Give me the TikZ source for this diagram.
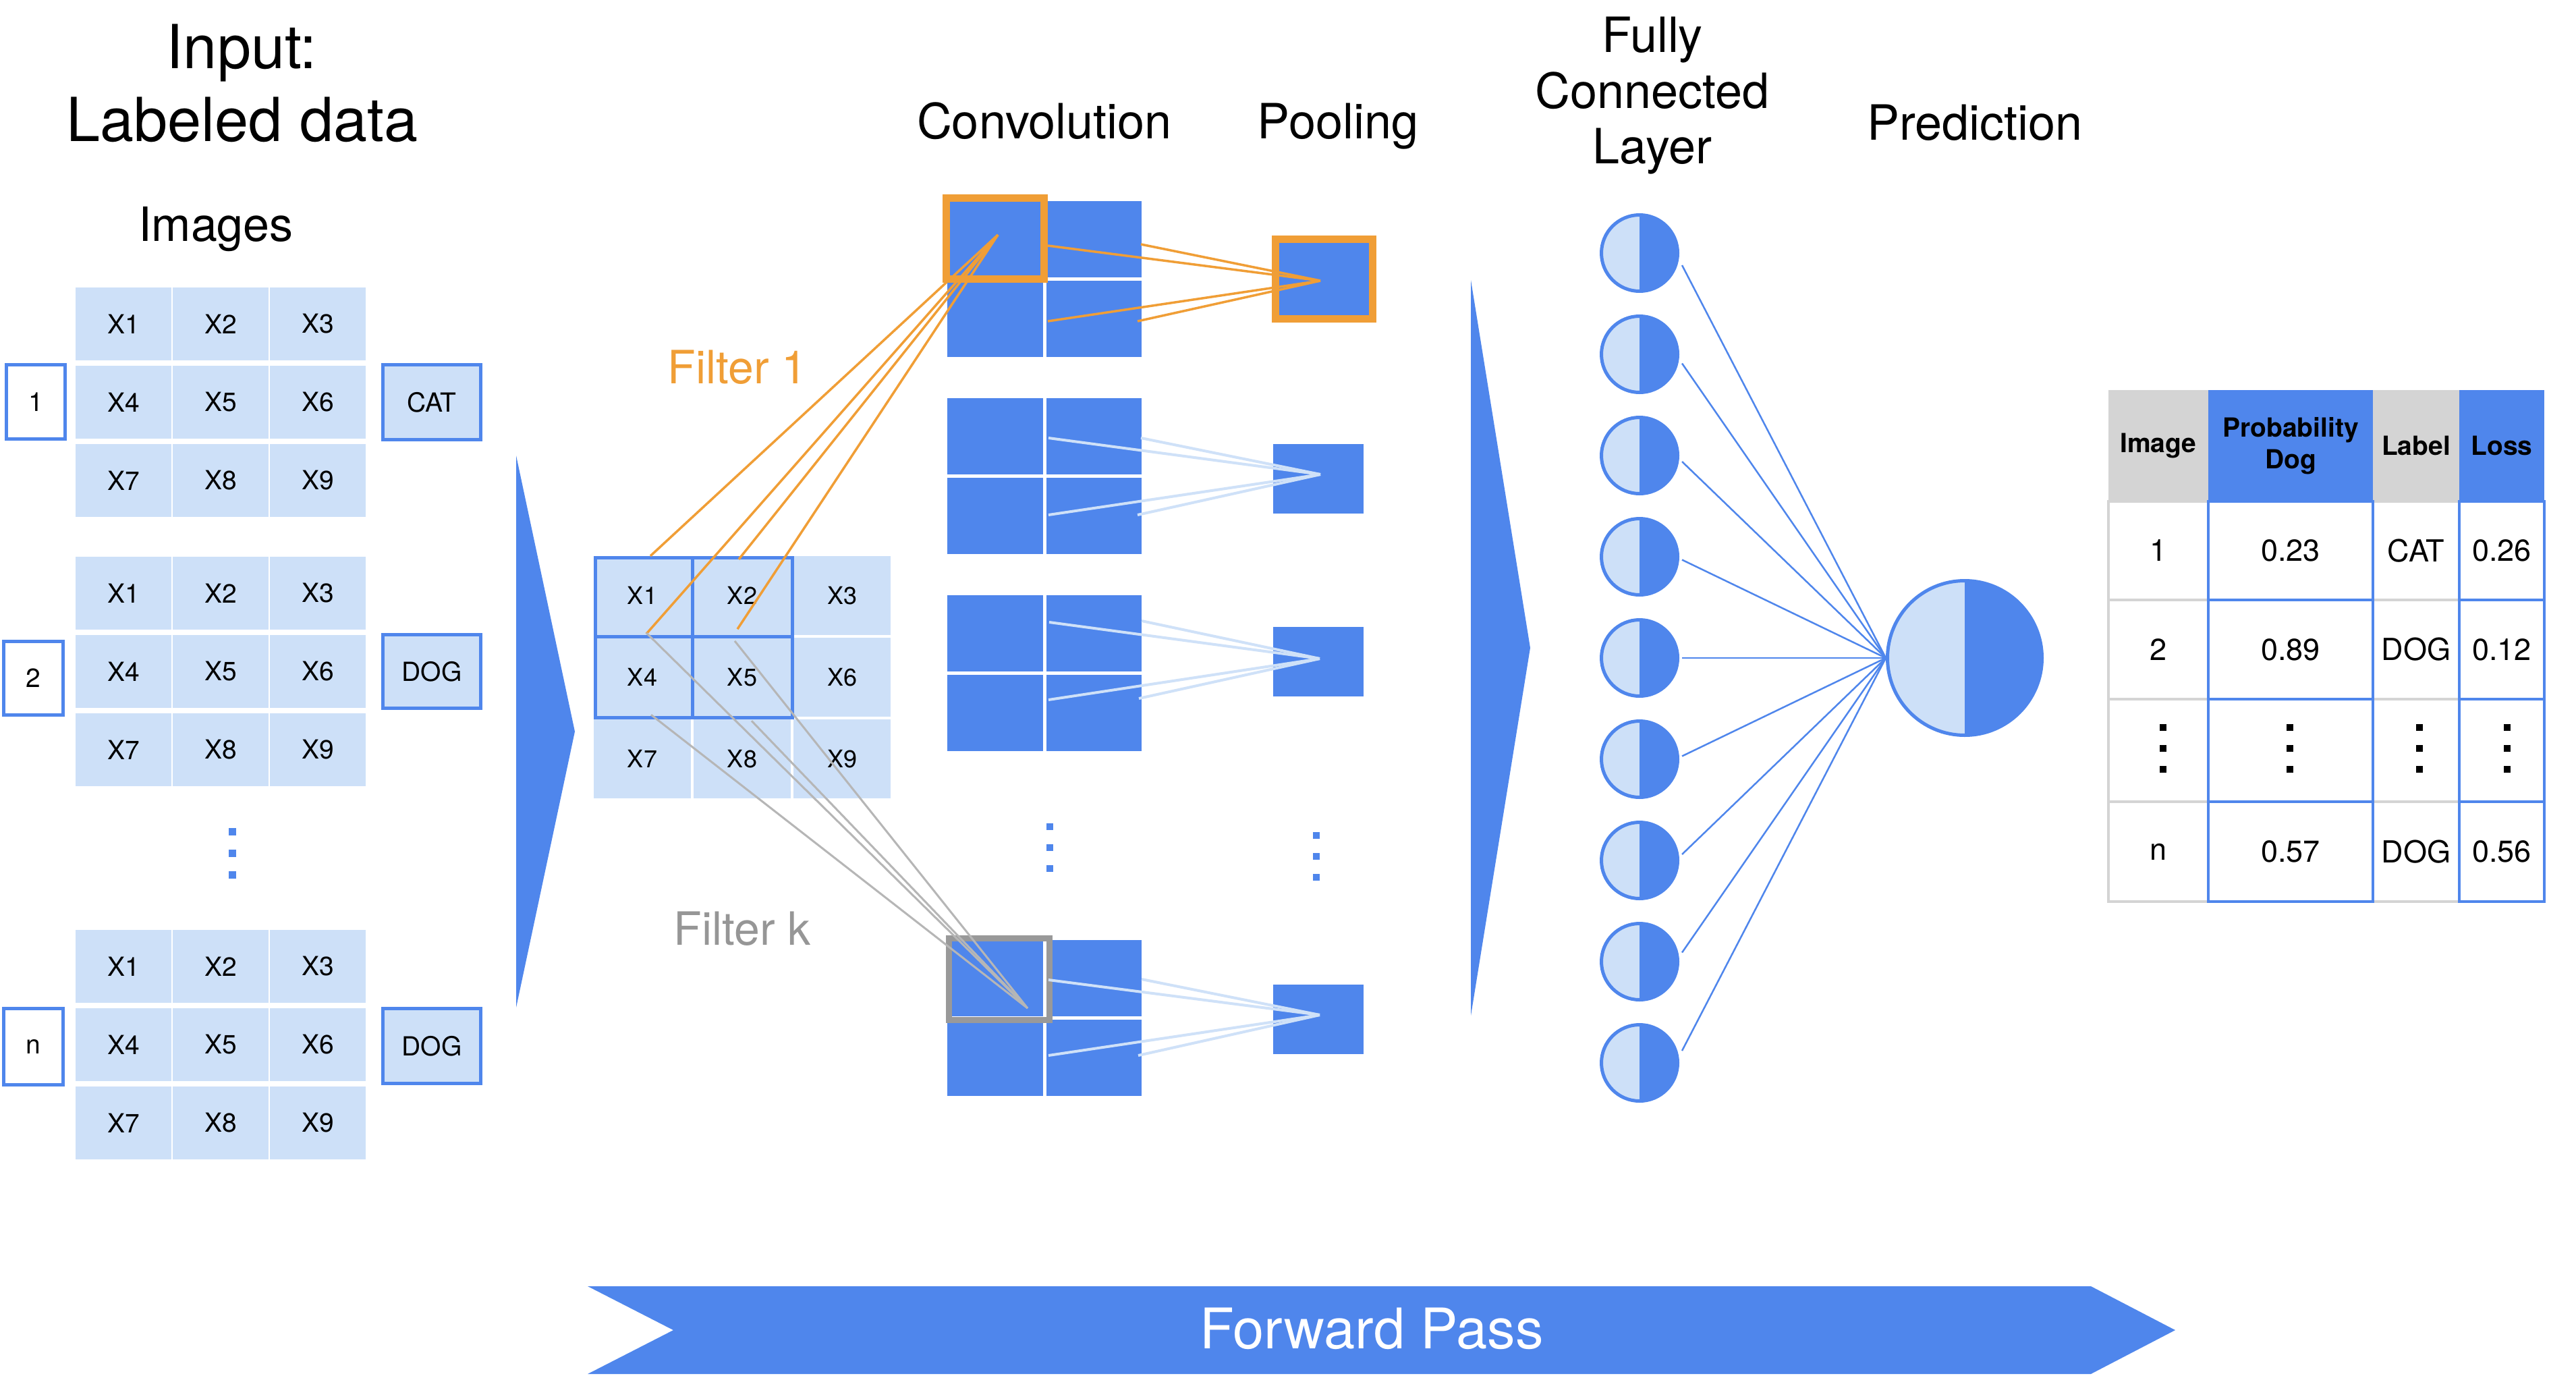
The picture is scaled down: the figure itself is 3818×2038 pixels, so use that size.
\documentclass[tikz,border=0pt]{standalone}
\usepackage{fontspec}
\setmainfont{TeX Gyre Heros}
\definecolor{cblue}{RGB}{79,134,236}
\definecolor{clight}{RGB}{205,224,248}
\definecolor{corange}{RGB}{240,158,54}
\definecolor{cgrayline}{RGB}{182,182,182}
\definecolor{cgraybox}{RGB}{153,153,153}
\definecolor{cgraytext}{RGB}{150,150,150}
\definecolor{clightline}{RGB}{207,225,248}
\definecolor{ctgray}{RGB}{212,212,212}
\newcommand\myfs[1]{\fontsize{#1}{#1}\selectfont}
\newcommand\bx[7]{\node[#1,minimum width={(#5-#3)*1pt},minimum height={(#6-#4)*1pt}] (#2) at ({(#3+#5)/2},{(#4+#6)/2}) {#7};}
\newcommand\sqdot[4]{\fill[#4] ({#1-#3/2},{#2-#3/2}) rectangle ({#1+#3/2},{#2+#3/2});}
\begin{document}
\begin{tikzpicture}[x=1pt,y=-1pt,
  cell/.style={fill=clight,inner sep=0pt,font=\myfs{39}},
  fcell/.style={fill=clight,inner sep=0pt,font=\myfs{36}},
  idbox/.style={draw=cblue,line width=5pt,fill=white,inner sep=0pt,font=\myfs{39}},
  labbox/.style={draw=cblue,line width=5pt,fill=clight,inner sep=0pt,font=\myfs{39}},
  ccell/.style={fill=cblue,inner sep=0pt},
  pcell/.style={fill=cblue,inner sep=0pt},
  title/.style={font=\myfs{90},anchor=base,inner sep=0pt},
  head/.style={font=\myfs{72},anchor=base,inner sep=0pt},
  filt/.style={font=\myfs{68},anchor=base,inner sep=0pt},
  oline/.style={corange,line width=3.5pt},
  gline/.style={cgrayline,line width=3pt},
  lline/.style={clightline,line width=4pt},
  fcline/.style={cblue,line width=2.5pt},
  neuron/.style={circle,inner sep=0pt,minimum size=113pt,fill=clight,draw=cblue,line width=5pt,
     path picture={\fill[cblue] (path picture bounding box.north) rectangle (path picture bounding box.south east);}},
  bigneuron/.style={neuron,minimum size=229pt},
  thgray/.style={fill=ctgray,inner sep=0pt,font=\fontsize{39}{47}\selectfont\bfseries,align=center},
  thblue/.style={fill=cblue,inner sep=0pt,font=\fontsize{39}{47}\selectfont\bfseries,align=center},
  tdgray/.style={draw=ctgray,line width=4pt,fill=white,inner sep=0pt,font=\myfs{45}},
  tdblue/.style={draw=cblue,line width=4pt,fill=white,inner sep=0pt,font=\myfs{45}},
]
\useasboundingbox[fill=white] (0,0) rectangle (3818,2038);

% ---------- headings ----------
\node[title] (t1) at (358,101) {Input:};
\node[title] (t2) at (359,209) {Labeled data};
\node[head,font=\myfs{70}] (t3) at (320,357) {Images};
\node[head] (hconv) at (1548,205) {Convolution};
\node[head] (hpool) at (1983,205) {Pooling};
\node[head] (hfc1) at (2449,77) {Fully};
\node[head] (hfc2) at (2449,160) {Connected};
\node[head] (hfc3) at (2449,242) {Layer};
\node[head] (hpred) at (2927,207) {Prediction};

% ---------- input images ----------
\foreach \g/\gt in {1/426,2/825,3/1378}{
  \foreach \r in {0,1,2}{
    \foreach \c in {0,1,2}{
      \pgfmathtruncatemacro\k{3*\r+\c+1}
      \pgfmathtruncatemacro\xa{112+144*\c}
      \pgfmathtruncatemacro\ya{\gt+116*\r}
      \pgfmathtruncatemacro\xb{\xa+142}
      \pgfmathtruncatemacro\yb{\ya+108}
      \bx{cell}{g\g-\k}{\xa}{\ya}{\xb}{\yb}{X\k}
    }
  }
}
\bx{idbox}{id1}{9.5}{540.5}{96.5}{650.5}{1}
\bx{idbox}{id2}{5.5}{950.5}{93.5}{1059.5}{2}
\bx{idbox}{idn}{5.5}{1494.5}{93.5}{1607.5}{n}
\bx{labbox}{lab1}{567.5}{540.5}{712.5}{651.5}{CAT}
\bx{labbox}{lab2}{567.5}{940.5}{712.5}{1049.5}{DOG}
\bx{labbox}{labn}{567.5}{1494.5}{712.5}{1605.5}{DOG}
\sqdot{344}{1232}{11}{cblue}
\sqdot{344}{1264}{11}{cblue}
\sqdot{344}{1296}{11}{cblue}

% ---------- arrows ----------
\fill[cblue] (765,675) -- (852,1084) -- (765,1493) -- cycle;
\fill[cblue] (2180,415) -- (2268,960) -- (2180,1505) -- cycle;
\fill[cblue] (871,1906) -- (3099,1906) -- (3224,1971) -- (3099,2036) -- (871,2036) -- (998,1971) -- cycle;
\node[font=\myfs{83},text=white,anchor=base,inner sep=0pt] (fwd) at (2033,1998) {Forward Pass};

% ---------- filter input ----------
\foreach \r in {0,1,2}{
  \foreach \c in {0,1,2}{
    \pgfmathtruncatemacro\k{3*\r+\c+1}
    \pgfmathtruncatemacro\xa{880+148*\c}
    \pgfmathtruncatemacro\ya{824+121*\r}
    \pgfmathtruncatemacro\xb{\xa+144}
    \pgfmathtruncatemacro\yb{\ya+117}
    \bx{fcell}{f-\k}{\xa}{\ya}{\xb}{\yb}{X\k}
  }
}
\draw[cblue,line width=5pt] (882,826) rectangle (1174,1063);
\draw[cblue,line width=5pt] (1026,826) -- (1026,1063);
\draw[cblue,line width=5pt] (882,943) -- (1174,943);
\node[filt,text=corange] (f1lab) at (1093,568) {Filter 1};
\node[filt,text=cgraytext] (fklab) at (1100,1400) {Filter k};

% ---------- convolution blocks ----------
\foreach \b/\T in {1/298,2/590,3/882,k/1393}{
  \pgfmathtruncatemacro\ya{\T}
  \pgfmathtruncatemacro\yb{\T+113}
  \pgfmathtruncatemacro\yc{\T+118}
  \pgfmathtruncatemacro\yd{\T+231}
  \bx{ccell}{c\b-1}{1404}{\ya}{1546}{\yb}{}
  \bx{ccell}{c\b-2}{1551}{\ya}{1692}{\yb}{}
  \bx{ccell}{c\b-3}{1404}{\yc}{1546}{\yd}{}
  \bx{ccell}{c\b-4}{1551}{\yc}{1692}{\yd}{}
}
\draw[corange,line width=11pt] (1402.5,293.5) rectangle (1547.5,413.5);
\draw[cgraybox,line width=9pt] (1406.5,1390.5) rectangle (1555.5,1511.5);
\sqdot{1556}{1225}{10}{cblue}
\sqdot{1556}{1256}{10}{cblue}
\sqdot{1556}{1287}{10}{cblue}

% ---------- pooling ----------
\bx{pcell,draw=corange,line width=11pt}{p1}{1890}{354}{2034}{472}{}
\bx{pcell}{p2}{1887}{658}{2021}{761}{}
\bx{pcell}{p3}{1887}{929}{2021}{1032}{}
\bx{pcell}{pk}{1887}{1459}{2021}{1562}{}
\sqdot{1951}{1238}{10}{cblue}
\sqdot{1951}{1269}{10}{cblue}
\sqdot{1951}{1300}{10}{cblue}

% ---------- connectors conv -> pool ----------
\coordinate (e1) at (1957,416);
\coordinate (e2) at (1957,703);
\coordinate (e3) at (1956,976);
\coordinate (ek) at (1956,1504);
\foreach \p/\q in {1553/364,1691/362,1553/476,1686/476}{\draw[oline] (\p,\q) coordinate (tmp) -- (e1);}
\foreach \p/\q in {1554/649,1691/649,1554/763,1686/763}{\draw[lline] (\p,\q) coordinate (tmp) -- (e2);}
\foreach \p/\q in {1555/922,1692/920,1554/1037,1688/1035}{\draw[lline] (\p,\q) coordinate (tmp) -- (e3);}
\foreach \p/\q in {1554/1452,1692/1451,1554/1564,1687/1564}{\draw[lline] (\p,\q) coordinate (tmp) -- (ek);}

% ---------- connectors filter -> conv ----------
\coordinate (o1) at (1479,348);
\coordinate (ok) at (1523,1494);
\draw[oline] ([xshift=12pt]f-1.north) -- (o1);
\draw[oline] ([xshift=6pt,yshift=2pt]f-1.south) -- (o1);
\draw[oline] ([xshift=-5pt,yshift=-5pt]f-2.north) -- (o1);
\draw[oline] ([xshift=-7pt,yshift=9pt]f-2.south) -- (o1);
\draw[gline] ([xshift=6pt,yshift=7pt]f-4.north) -- (ok);
\draw[gline] ([xshift=13pt,yshift=3pt]f-4.south) -- (ok);
\draw[gline] ([xshift=-11pt,yshift=-5pt]f-5.north) -- (ok);
\draw[gline] ([xshift=14pt,yshift=-6pt]f-5.south) -- (ok);

% ---------- fully connected ----------
\foreach \i in {1,...,9}{
  \pgfmathsetmacro\cy{375+150*(\i-1)}
  \node[neuron] (n\i) at (2430,\cy) {};
}
\node[bigneuron] (pred) at (2912,975) {};
\foreach \i in {1,...,9}{
  \pgfmathsetmacro\dy{0.03*(375+150*(\i-1)-975)}
  \draw[fcline] ([xshift=4pt,yshift=\dy pt]n\i.east) -- (pred.west);
}

% ---------- table ----------
\bx{thgray}{hImg}{3125}{578}{3273}{743}{Image}
\bx{thblue}{hProb}{3273}{578}{3517}{743}{Probability\\Dog}
\bx{thgray}{hLab}{3517}{578}{3645}{743}{Label}
\bx{thblue}{hLoss}{3645}{578}{3771}{743}{Loss}
\bx{tdgray}{r1a}{3125}{743}{3273}{889}{1}
\bx{tdgray}{r2a}{3125}{889}{3273}{1036}{2}
\bx{tdgray}{r3a}{3125}{1036}{3273}{1188}{}
\bx{tdgray}{r4a}{3125}{1188}{3273}{1336}{n}
\bx{tdgray}{r1c}{3517}{743}{3645}{889}{CAT}
\bx{tdgray}{r2c}{3517}{889}{3645}{1036}{DOG}
\bx{tdgray}{r3c}{3517}{1036}{3645}{1188}{}
\bx{tdgray}{r4c}{3517}{1188}{3645}{1336}{DOG}
\bx{tdblue}{r1b}{3273}{743}{3517}{889}{0.23}
\bx{tdblue}{r2b}{3273}{889}{3517}{1036}{0.89}
\bx{tdblue}{r3b}{3273}{1036}{3517}{1188}{}
\bx{tdblue}{r4b}{3273}{1188}{3517}{1336}{0.57}
\bx{tdblue}{r1d}{3645}{743}{3771}{889}{0.26}
\bx{tdblue}{r2d}{3645}{889}{3771}{1036}{0.12}
\bx{tdblue}{r3d}{3645}{1036}{3771}{1188}{}
\bx{tdblue}{r4d}{3645}{1188}{3771}{1336}{0.56}
\foreach \xx in {3206,3394,3586,3716}{
  \foreach \yy in {1078,1109,1140}{
    \sqdot{\xx}{\yy}{10.5}{black}
  }
}
\end{tikzpicture}
\end{document}
